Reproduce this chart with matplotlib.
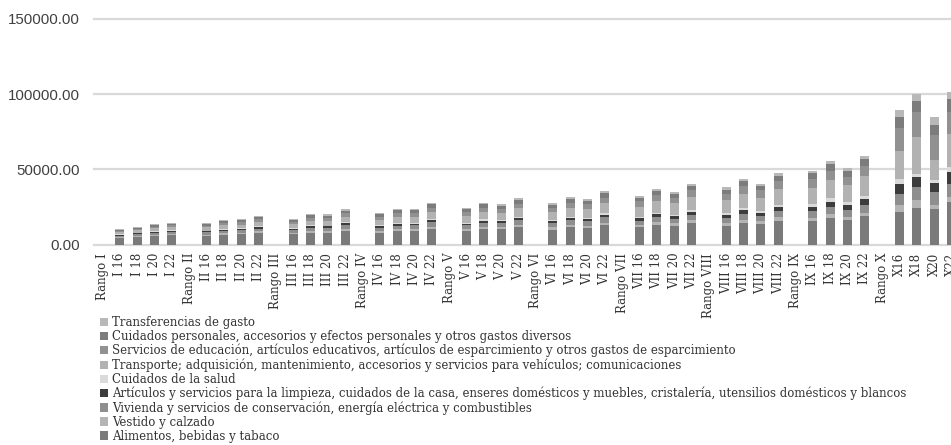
import matplotlib
matplotlib.use("Agg")
from matplotlib import pyplot as plt
from matplotlib.patches import Patch

# categories along the x axis ("Rango" entries are empty spacers)
categories = ["Rango I", "I 16", "I 18", "I 20", "I 22",
              "Rango II", "II 16", "II 18", "II 20", "II 22",
              "Rango III", "III 16", "III 18", "III 20", "III 22",
              "Rango IV", "IV 16", "IV 18", "IV 20", "IV 22",
              "Rango V", "V 16", "V 18", "V 20", "V 22",
              "Rango VI", "VI 16", "VI 18", "VI 20", "VI 22",
              "Rango VII", "VII 16", "VII 18", "VII 20", "VII 22",
              "Rango VIII", "VIII 16", "VIII 18", "VIII 20", "VIII 22",
              "Rango IX", "IX 16", "IX 18", "IX 20", "IX 22",
              "Rango X", "X16", "X18", "X20", "X22"]

# values for the 40 bars (in the order of the non-"Rango" categories)
alimentos = [4330, 4910, 5670, 6090, 5720, 6440, 6720, 7600,
             6710, 7840, 7700, 9170, 7980, 9010, 9100, 10530,
             8990, 10250, 9990, 11400, 9970, 11340, 10910, 12780,
             11310, 12950, 12250, 14180, 12570, 14420, 13370, 15740,
             15740, 17820, 16380, 18880, 21900, 24500, 23500, 28500]
vestido = [620, 700, 810, 870, 860, 970, 1010, 1140,
           1030, 1210, 1250, 1410, 1050, 1190, 1150, 1390,
           1220, 1390, 1350, 1540, 1390, 1580, 1520, 1780,
           1620, 1850, 1750, 2030, 1910, 2190, 2030, 2390,
           1970, 2230, 2050, 2360, 4650, 5100, 2700, 3000]
vivienda = [1030, 1170, 1350, 1450, 1430, 1610, 1680, 1900,
            1720, 2010, 2050, 2350, 2100, 2370, 2400, 2770,
            2430, 2770, 2700, 3080, 2770, 3150, 3030, 3550,
            2910, 3330, 3150, 3650, 3430, 3930, 3650, 4290,
            4430, 5010, 4610, 5310, 7300, 8900, 8500, 8900]
articulos = [520, 590, 680, 730, 720, 810, 840, 950,
             860, 1010, 1050, 1180, 1050, 1190, 1250, 1390,
             1220, 1390, 1350, 1540, 1390, 1580, 1520, 1780,
             1620, 1850, 1750, 2030, 1910, 2190, 2030, 2390,
             2950, 3340, 3070, 3540, 6640, 6600, 6500, 7800]
salud = [310, 350, 410, 440, 430, 480, 500, 570,
         520, 600, 580, 710, 630, 710, 700, 830,
         730, 830, 810, 920, 830, 950, 910, 1070,
         970, 1110, 1050, 1220, 1140, 1310, 1220, 1430,
         1970, 2230, 2050, 2360, 3320, 1500, 1800, 3300]
transporte = [1440, 1640, 1890, 2030, 2150, 2420, 2520, 2850,
              2750, 3220, 3150, 3760, 3570, 4030, 3950, 4710,
              4370, 4990, 4860, 5540, 5260, 5990, 5760, 6750,
              6780, 7770, 7350, 8510, 8380, 9610, 8910, 10490,
              10820, 12250, 11260, 12980, 18600, 24700, 13300, 22000]
educacion = [820, 940, 1080, 1160, 1290, 1450, 1510, 1710,
             1550, 1810, 1850, 2120, 2100, 2370, 2350, 2770,
             2430, 2770, 2700, 3080, 2770, 3150, 3030, 3550,
             3550, 4070, 3850, 4460, 4570, 5240, 4860, 5720,
             5410, 6130, 5630, 6490, 15300, 17100, 16700, 14400]
cuidados = [820, 940, 1080, 1160, 1140, 1290, 1340, 1520,
            1380, 1610, 1650, 1880, 1680, 1900, 1850, 2220,
            1940, 2220, 2160, 2460, 2220, 2520, 2420, 2840,
            2260, 2590, 2450, 2840, 2670, 3060, 2840, 3340,
            3940, 4460, 4100, 4720, 7300, 7100, 6700, 8900]
transferencias = [410, 470, 540, 580, 570, 640, 670, 760,
                  690, 800, 820, 940, 840, 950, 950, 1110,
                  970, 1110, 1080, 1230, 1110, 1260, 1210, 1420,
                  1290, 1480, 1400, 1620, 1520, 1750, 1620, 1910,
                  1970, 2230, 2050, 2360, 4650, 4700, 4900, 4500]

series_names = [
    "Alimentos, bebidas y tabaco",
    "Vestido y calzado",
    "Vivienda y servicios de conservación, energía eléctrica y combustibles",
    "Artículos y servicios para la limpieza, cuidados de la casa, enseres domésticos y muebles, cristalería, utensilios domésticos y blancos",
    "Cuidados de la salud",
    "Transporte; adquisición, mantenimiento, accesorios y servicios para vehículos; comunicaciones",
    "Servicios de educación, artículos educativos, artículos de esparcimiento y otros gastos de esparcimiento",
    "Cuidados personales, accesorios y efectos personales y otros gastos diversos",
    "Transferencias de gasto",
]
series_values = [alimentos, vestido, vivienda, articulos, salud,
                 transporte, educacion, cuidados, transferencias]
colors = ["#7a7a7a", "#b4b4b4", "#8e8e8e", "#3c3c3c", "#dadada",
          "#b2b2b2", "#919191", "#7c7c7c", "#b8b8b8"]

yticks = [0, 50000, 100000, 150000]

fig = plt.figure(figsize=(9.51, 4.45), dpi=100)
ax = fig.add_axes([94 / 951, 200.5 / 445, 866 / 951, 225.5 / 445])

xpos = [i for i, c in enumerate(categories) if not c.startswith("Rango")]
bottom = [0] * len(xpos)
for name, vals, col in zip(series_names, series_values, colors):
    ax.bar(xpos, vals, width=0.52, bottom=bottom, color=col, label=name, zorder=2)
    bottom = [b + v for b, v in zip(bottom, vals)]

ax.set_xlim(-0.5, len(categories) - 0.5)
ax.set_ylim(0, 150000)
for t in yticks:
    ax.axhline(t, color="#d9d9d9", lw=1.6, zorder=1, clip_on=False)

ax.set_yticks(yticks)
ax.set_yticklabels([f"{t:.2f}" for t in yticks], fontsize=10.8,
                   family="Liberation Sans", color="#404040")
ax.set_xticks(range(len(categories)))
ax.set_xticklabels(categories, rotation=90, fontsize=8.5,
                   family="DejaVu Serif", color="#333333")
ax.tick_params(length=0, axis="both")
ax.tick_params(axis="y", pad=10)
ax.tick_params(axis="x", pad=6)
for s in ax.spines.values():
    s.set_visible(False)

handles = [Patch(facecolor=c) for c in colors][::-1]
fig.legend(handles, series_names[::-1], loc="upper left",
           bbox_to_anchor=(100 / 951, 1 - 316 / 445), frameon=False,
           prop={"family": "DejaVu Serif", "size": 8.45},
           handlelength=0.7, handleheight=0.7, handletextpad=0.35,
           labelspacing=0.08, borderpad=0, borderaxespad=0, labelcolor="#333333")

fig.savefig("out.png", dpi=100)
